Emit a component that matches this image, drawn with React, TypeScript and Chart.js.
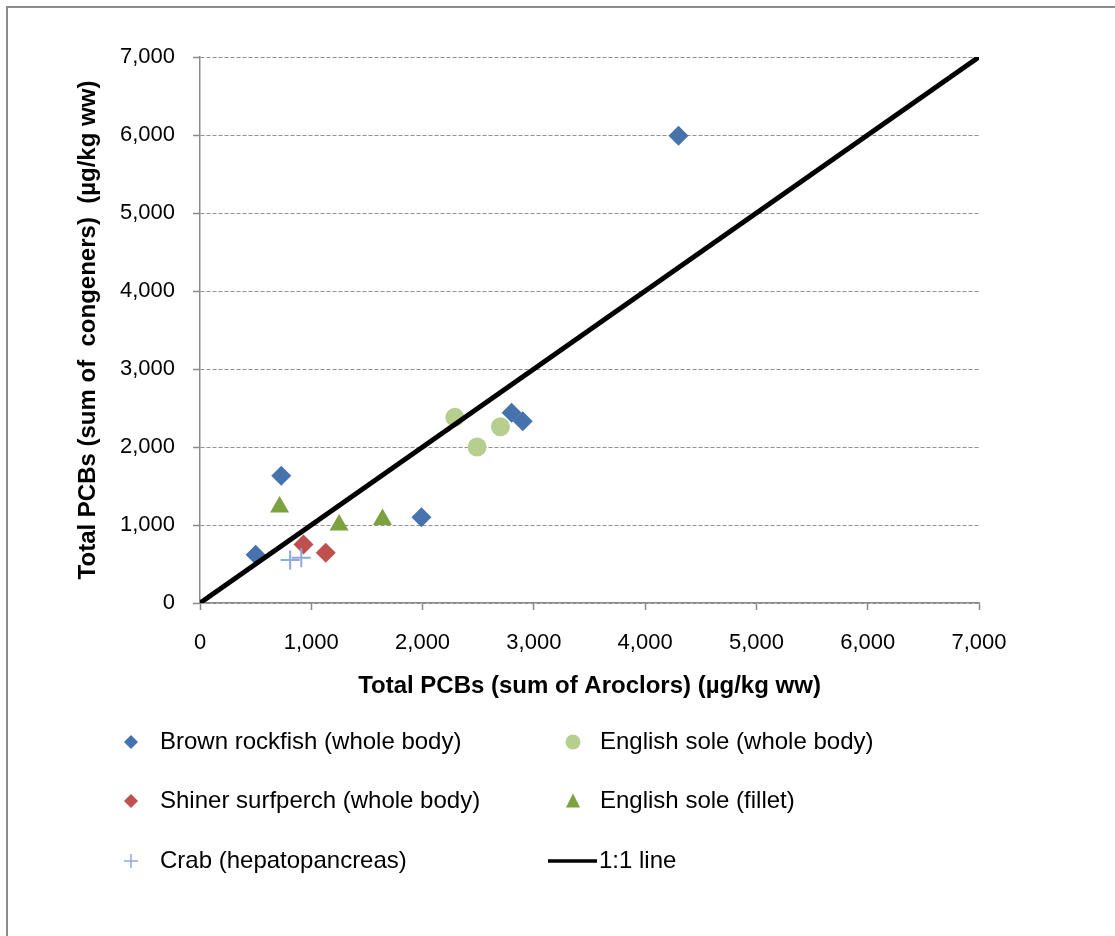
import React, { useEffect, useRef } from 'react';
import { Chart, registerables } from 'chart.js';

Chart.register(...registerables);

// Series values (µg/kg ww): x = sum of Aroclors, y = sum of congeners
const brownRockfishX = [500, 730, 1990, 2800, 2900, 4300];
const brownRockfishY = [620, 1630, 1100, 2440, 2330, 5990];
const shinerSurfperchX = [930, 1130];
const shinerSurfperchY = [750, 645];
const crabX = [810, 910];
const crabY = [550, 580];
const englishSoleWholeX = [2290, 2490, 2700];
const englishSoleWholeY = [2380, 2000, 2260];
const englishSoleFilletX = [715, 1250, 1640];
const englishSoleFilletY = [1230, 1000, 1070];
const oneToOneX = [0, 7000];
const oneToOneY = [0, 7000];

const axisTickValues = [0, 1000, 2000, 3000, 4000, 5000, 6000, 7000];
const axisTickLabels = ['0', '1,000', '2,000', '3,000', '4,000', '5,000', '6,000', '7,000'];

const seriesNames = [
  'Brown rockfish (whole body)',
  'English sole (whole body)',
  'Shiner surfperch (whole body)',
  'English sole (fillet)',
  'Crab (hepatopancreas)',
  '1:1 line',
];

const xTitle = 'Total PCBs (sum of Aroclors) (µg/kg ww)';
const yTitle = 'Total PCBs (sum of  congeners)  (µg/kg ww)';

const BLUE = '#4673AE';
const RED = '#C0504D';
const LIGHT_GREEN = '#B6CF8F';
const GREEN = '#7BA23F';
const CRAB_BLUE = '#8FA9D9';
const AXIS_GRAY = '#8a8a8a';
const FONT = '"Liberation Sans", Arial, sans-serif';

const zip = (xs: number[], ys: number[]) => xs.map((x, i) => ({ x, y: ys[i] }));

type MarkerKind = 'diamond' | 'circle' | 'triangle' | 'cross' | 'line';

// Legend grid: two columns, three rows, drawn on the canvas
const legendLayout: { name: string; kind: MarkerKind; color: string; col: number; row: number }[] = [
  { name: seriesNames[0], kind: 'diamond', color: BLUE, col: 0, row: 0 },
  { name: seriesNames[1], kind: 'circle', color: LIGHT_GREEN, col: 1, row: 0 },
  { name: seriesNames[2], kind: 'diamond', color: RED, col: 0, row: 1 },
  { name: seriesNames[3], kind: 'triangle', color: GREEN, col: 1, row: 1 },
  { name: seriesNames[4], kind: 'cross', color: CRAB_BLUE, col: 0, row: 2 },
  { name: seriesNames[5], kind: 'line', color: '#000000', col: 1, row: 2 },
];

function drawMarker(ctx: CanvasRenderingContext2D, kind: MarkerKind, color: string, x: number, y: number) {
  ctx.save();
  ctx.fillStyle = color;
  ctx.strokeStyle = color;
  ctx.beginPath();
  if (kind === 'diamond') {
    const r = 7;
    ctx.moveTo(x, y - r);
    ctx.lineTo(x + r, y);
    ctx.lineTo(x, y + r);
    ctx.lineTo(x - r, y);
    ctx.closePath();
    ctx.fill();
  } else if (kind === 'circle') {
    ctx.arc(x, y, 7.5, 0, Math.PI * 2);
    ctx.fill();
  } else if (kind === 'triangle') {
    ctx.moveTo(x, y - 7.5);
    ctx.lineTo(x + 7, y + 6.5);
    ctx.lineTo(x - 7, y + 6.5);
    ctx.closePath();
    ctx.fill();
  } else if (kind === 'cross') {
    ctx.lineWidth = 1.5;
    ctx.moveTo(x - 7, y);
    ctx.lineTo(x + 7, y);
    ctx.moveTo(x, y - 7);
    ctx.lineTo(x, y + 7);
    ctx.stroke();
  } else {
    ctx.lineWidth = 3.5;
    ctx.moveTo(x - 25, y);
    ctx.lineTo(x + 24, y);
    ctx.stroke();
  }
  ctx.restore();
}

const gridLegend = {
  id: 'gridLegend',
  afterDraw(chart: Chart) {
    const ctx = chart.ctx;
    const colMarkerX = [123, 565];
    const colTextX = [152, 592];
    const rowY = [734, 793, 853];
    ctx.save();
    ctx.font = `24px ${FONT}`;
    ctx.fillStyle = '#000';
    ctx.textBaseline = 'middle';
    ctx.textAlign = 'left';
    for (const item of legendLayout) {
      const y = rowY[item.row];
      drawMarker(ctx, item.kind, item.color, colMarkerX[item.col], y);
      ctx.fillText(item.name, colTextX[item.col] - (item.kind === 'line' ? 1 : 0), y);
    }
    ctx.restore();
  },
};

export default function App() {
  const canvasRef = useRef<HTMLCanvasElement | null>(null);

  useEffect(() => {
    if (!canvasRef.current) return;
    const tickCallback = (value: number | string) => {
      const i = axisTickValues.indexOf(Number(value));
      return i >= 0 ? axisTickLabels[i] : '';
    };
    const chart = new Chart(canvasRef.current, {
      type: 'scatter',
      data: {
        datasets: [
          {
            type: 'line',
            label: seriesNames[5],
            data: zip(oneToOneX, oneToOneY),
            borderColor: '#000000',
            borderWidth: 5,
            pointRadius: 0,
            showLine: true,
            fill: false,
            order: 0,
          },
          {
            label: seriesNames[0],
            data: zip(brownRockfishX, brownRockfishY),
            pointStyle: 'rectRot',
            pointRadius: 10,
            backgroundColor: BLUE,
            borderColor: BLUE,
            borderWidth: 0,
            order: 2,
          },
          {
            label: seriesNames[1],
            data: zip(englishSoleWholeX, englishSoleWholeY),
            pointStyle: 'circle',
            pointRadius: 9.5,
            backgroundColor: LIGHT_GREEN,
            borderColor: LIGHT_GREEN,
            borderWidth: 0,
            order: 2,
          },
          {
            label: seriesNames[2],
            data: zip(shinerSurfperchX, shinerSurfperchY),
            pointStyle: 'rectRot',
            pointRadius: 10,
            backgroundColor: RED,
            borderColor: RED,
            borderWidth: 0,
            order: 2,
          },
          {
            label: seriesNames[3],
            data: zip(englishSoleFilletX, englishSoleFilletY),
            pointStyle: 'triangle',
            pointRadius: 11,
            backgroundColor: GREEN,
            borderColor: GREEN,
            borderWidth: 0,
            order: 2,
          },
          {
            label: seriesNames[4],
            data: zip(crabX, crabY),
            pointStyle: 'cross',
            pointRadius: 9.5,
            backgroundColor: CRAB_BLUE,
            borderColor: CRAB_BLUE,
            borderWidth: 2,
            order: 1,
          },
        ],
      },
      options: {
        animation: false,
        responsive: false,
        maintainAspectRatio: false,
        layout: { padding: { top: 49, right: 136, bottom: 233, left: 0 } },
        plugins: {
          legend: { display: false },
          tooltip: { enabled: false },
        },
        scales: {
          x: {
            type: 'linear',
            min: 0,
            max: 7000,
            afterFit: (s: any) => { s.height = 100; },
            afterBuildTicks: (s: any) => { s.ticks = axisTickValues.map((v) => ({ value: v })); },
            ticks: {
              callback: tickCallback,
              color: '#000',
              font: { family: FONT, size: 22 },
              padding: 20,
              maxRotation: 0,
              autoSkip: false,
            },
            grid: {
              drawOnChartArea: false,
              drawTicks: true,
              tickLength: 7,
              tickColor: AXIS_GRAY,
              tickWidth: 1.5,
            },
            border: { color: AXIS_GRAY, width: 1.5 },
            title: {
              display: true,
              text: xTitle,
              color: '#000',
              font: { family: FONT, size: 24, weight: 'bold' },
              padding: { top: 0, bottom: 2 },
            },
          },
          y: {
            type: 'linear',
            min: 0,
            max: 7000,
            afterFit: (s: any) => { s.width = 192; },
            afterBuildTicks: (s: any) => { s.ticks = axisTickValues.map((v) => ({ value: v })); },
            ticks: {
              callback: tickCallback,
              color: '#000',
              font: { family: FONT, size: 22 },
              padding: 18,
              autoSkip: false,
            },
            grid: {
              color: '#909090',
              lineWidth: 1,
              drawTicks: true,
              tickLength: 7,
              tickColor: AXIS_GRAY,
              tickWidth: 1.5,
              tickBorderDash: [],
            },
            border: { color: AXIS_GRAY, width: 1.5, dash: [4, 2] },
            title: {
              display: true,
              text: yTitle,
              color: '#000',
              font: { family: FONT, size: 24, weight: 'bold' },
              padding: { top: 66, bottom: 0 },
            },
          },
        },
      },
      plugins: [gridLegend],
    } as any);
    return () => chart.destroy();
  }, []);

  return (
    <div
      style={{
        position: 'fixed',
        left: 6,
        top: 6,
        width: 1109,
        height: 930,
        borderLeft: '2px solid #8c8c8c',
        borderTop: '2px solid #8c8c8c',
        boxSizing: 'border-box',
        background: '#fff',
        overflow: 'hidden',
      }}
    >
      <canvas
        ref={canvasRef}
        width={1107}
        height={928}
        style={{ position: 'absolute', left: 0, top: 0, width: 1107, height: 928 }}
      />
    </div>
  );
}
